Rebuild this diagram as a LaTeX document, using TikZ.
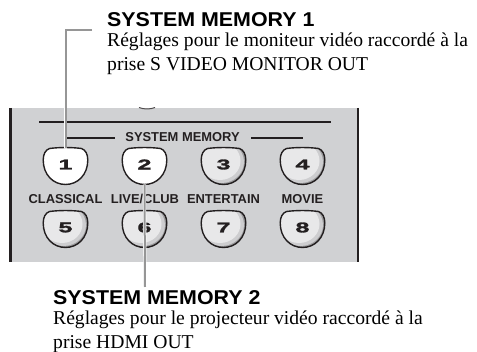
\documentclass[tikz,border=0pt]{standalone}
\usepackage{fontspec}
\setmainfont{Liberation Serif}
\setsansfont{Liberation Sans}
\newfontfamily\numfont[FakeStretch=1.8,FakeBold=2]{Liberation Sans}
\newfontfamily\titlefont[FakeStretch=1.07]{Liberation Sans}
\definecolor{panel}{RGB}{208,209,211}
\definecolor{ink}{RGB}{35,31,32}
\definecolor{leader}{RGB}{150,150,150}
\definecolor{btnlight}{RGB}{232,232,233}
\definecolor{btnmid}{RGB}{205,205,207}
\definecolor{btndark}{RGB}{155,155,157}
\tikzset{
 btnshape/.style={insert path={(-16,0.5) .. controls (-6,-0.8) and (6,-0.8) .. (16,0.5) .. controls (20,2) and (22.3,6) .. (22.3,12) .. controls (22.3,26.5) and (12.5,36.5) .. (0,36.5) .. controls (-12.5,36.5) and (-22.3,26.5) .. (-22.3,12) .. controls (-22.3,6) and (-20,2) .. (-16,0.5) -- cycle}},
 btnline/.style={draw=ink, line width=1.4pt},
 num/.style={font=\numfont\bfseries\fontsize{14}{14}\selectfont, text=ink, inner sep=0pt},
 lbl/.style={font=\sffamily\bfseries\fontsize{12.9}{12.9}\selectfont, text=ink, inner sep=0pt, anchor=base},
 title/.style={font=\titlefont\bfseries\fontsize{20}{20}\selectfont, inner sep=0pt, anchor=base west},
 desc/.style={font=\fontsize{19.6}{19.6}\selectfont, inner sep=0pt, anchor=base west},
 lead/.style={draw=white, line width=0.6pt, double=leader, double distance=2pt},
 rule/.style={draw=ink, line width=1.6pt},
}
\newcommand\whitebtn[4]{%
 \begin{scope}[shift={(#2,#3)}]
  \path[fill=white, btnline, btnshape];
  \node[num] (#1) at (0,16.5) {#4};
  \coordinate (#1top) at (0,0);
  \coordinate (#1bot) at (0,36.5);
 \end{scope}}
\newcommand\graybtn[4]{%
 \begin{scope}[shift={(#2,#3)}]
  \begin{scope}
   \path[clip, btnshape];
   \fill[btndark] (-25,-2) rectangle (25,40);
   \fill[btnmid] (-2,14) ellipse [x radius=22.5, y radius=21];
   \fill[btnlight] (-3.5,13) ellipse [x radius=20.5, y radius=19];
  \end{scope}
  \path[btnline, btnshape];
  \node[num] (#1) at (0,16.5) {#4};
  \coordinate (#1top) at (0,0);
  \coordinate (#1bot) at (0,36.5);
 \end{scope}}
\begin{document}
\begin{tikzpicture}[x=1pt,y=-1pt]
\useasboundingbox (0,0) rectangle (477,352);
% panel
\fill[panel] (10,108) rectangle (358,262);
\draw[draw=ink, line width=3pt] (10.5,108) -- (10.5,262);
\draw[draw=ink, line width=2pt] (358.3,108) -- (358.3,262);
\draw[draw=ink!80, line width=1pt] (139,107.5) .. controls (144,109.5) and (150,109.5) .. (155,107.5);
\draw[rule] (39,122) -- (331,122);
\node[lbl] (sm) at (182.5,142) {SYSTEM MEMORY};
\draw[rule] (67,138) -- (115,138);
\draw[rule] (251,138) -- (303,138);
% buttons
\whitebtn{b1}{65.5}{148}{1}
\whitebtn{b2}{144.5}{148}{2}
\graybtn{b3}{223.5}{148}{3}
\graybtn{b4}{302.5}{148}{4}
\node[lbl] (l5) at (65.5,204) {CLASSICAL};
\node[lbl] (l6) at (145,204) {LIVE/CLUB};
\node[lbl] (l7) at (223.5,204) {ENTERTAIN};
\node[lbl] (l8) at (302.5,204) {MOVIE};
\graybtn{b5}{65.5}{211}{5}
\graybtn{b6}{144.5}{211}{6}
\graybtn{b7}{223.5}{211}{7}
\graybtn{b8}{302.5}{211}{8}
% texts
\node[title] (t1) at (107,27) {SYSTEM MEMORY 1};
\node[desc] (d1a) at (107,47) {Réglages pour le moniteur vidéo raccordé à la};
\node[desc] (d1b) at (107,71) {prise S VIDEO MONITOR OUT};
\node[title] (t2) at (53,305) {SYSTEM MEMORY 2};
\node[desc] (d2a) at (53,325) {Réglages pour le projecteur vidéo raccordé à la};
\node[desc] (d2b) at (53,349) {prise HDMI OUT};
% leaders
\coordinate (e1) at (92,30);
\coordinate (e2) at (145,287);
\draw[lead] (e1) -| (b1top);
\draw[lead] (b2bot) -- (e2);
\end{tikzpicture}
\end{document}
